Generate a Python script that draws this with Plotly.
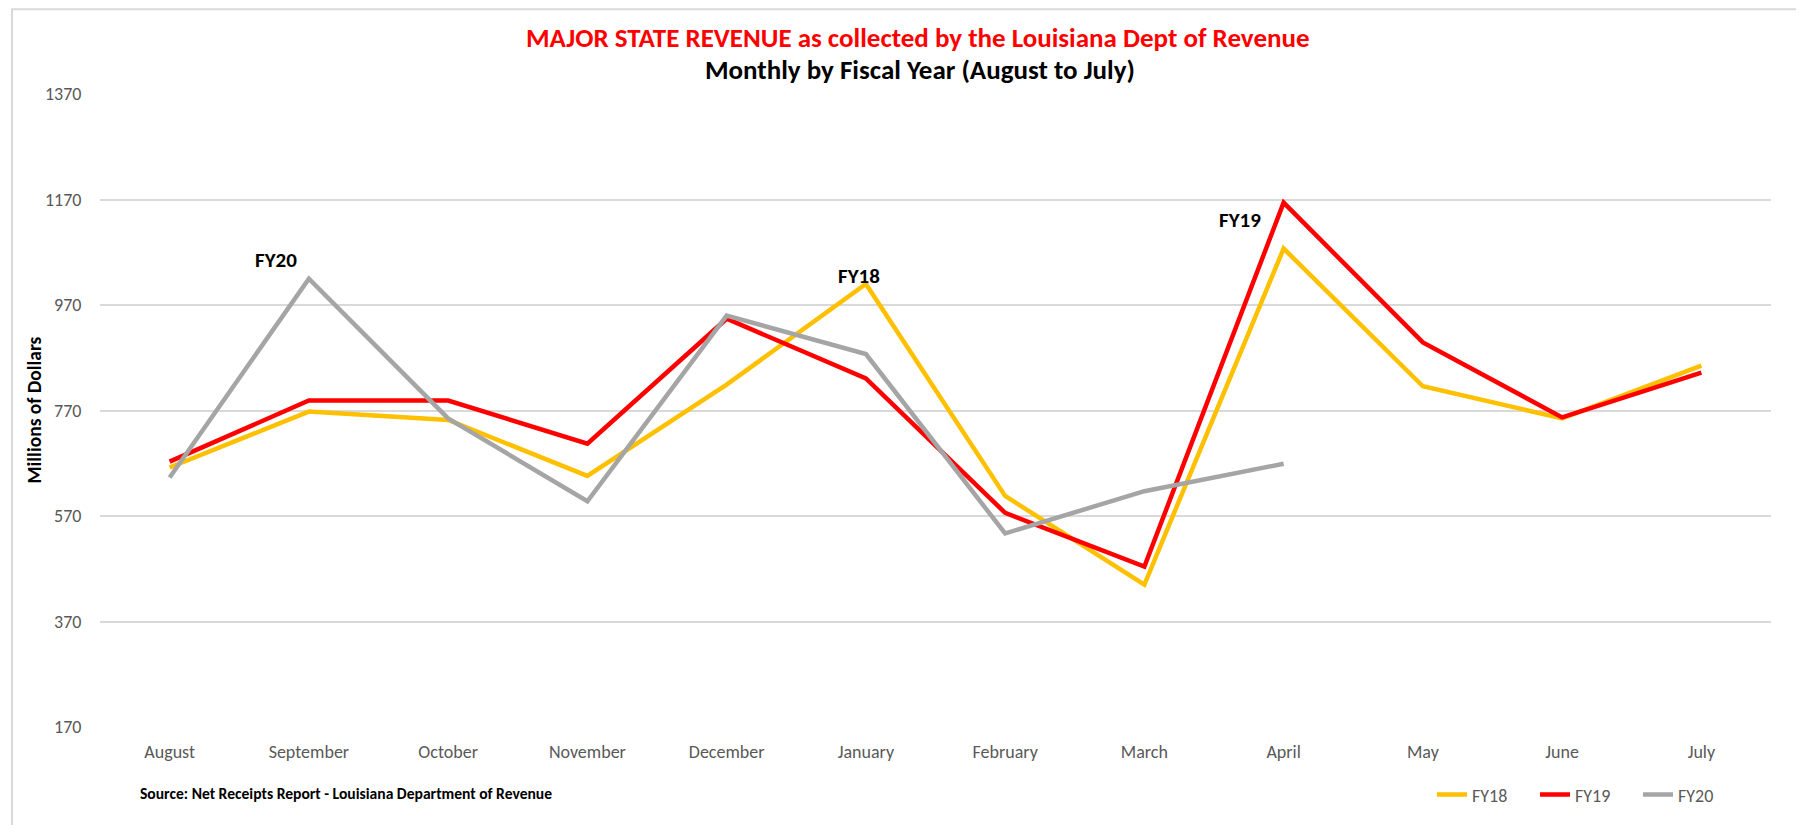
import plotly.graph_objects as go

months = ["August", "September", "October", "November", "December", "January",
          "February", "March", "April", "May", "June", "July"]
fy18 = [662, 768, 752, 646, 819, 1010, 608, 440, 1077, 816, 755, 855]
fy19 = [673, 789, 789, 707, 944, 831, 576, 474, 1164, 899, 757, 842]
fy20 = [643, 1020, 755, 598, 950, 877, 537, 617, 669, None, None, None]
y_ticks = [170, 370, 570, 770, 970, 1170, 1370]

series = [("FY18", fy18, "#FFC000"), ("FY19", fy19, "#FF0000"), ("FY20", fy20, "#A5A5A5")]

FONT = "Carlito, Lato, Open Sans, sans-serif"

fig = go.Figure()
for name, vals, col in series:
    fig.add_trace(go.Scatter(x=months, y=vals, name=name, mode="lines",
                             line=dict(color=col, width=4.5), connectgaps=False))

OFF = 8  # default body margin of the page
W, H = 1804 - OFF, 825 - OFF
L, T = 100 - OFF, 94 - OFF
R = W - (1771 - OFF)
B = H - (729 - OFF)
pw, ph = W - L - R, H - T - B

def px(x):
    return (x - OFF - L) / pw

def py(y):
    return (H - B - (y - OFF)) / ph

ann = [
    dict(text="<b>MAJOR STATE REVENUE as collected by the Louisiana Dept of Revenue</b>",
         x=px(918), y=py(37), font=dict(size=27, color="#FF0000")),
    dict(text="<b>Monthly by Fiscal Year (August to July)</b>",
         x=px(920), y=py(69), font=dict(size=27, color="#000000")),
    dict(text="<b>Millions of Dollars</b>", x=px(33), y=0.5, textangle=-90,
         font=dict(size=19.5, color="#000000")),
    dict(text="<b>Source: Net Receipts Report - Louisiana Department of Revenue</b>",
         x=px(138), y=py(796), xanchor="left", font=dict(size=15.6, color="#000000")),
    dict(text="<b>FY20</b>", x=px(276), y=py(261), font=dict(size=21, color="#000000")),
    dict(text="<b>FY18</b>", x=px(859), y=py(277), font=dict(size=21, color="#000000")),
    dict(text="<b>FY19</b>", x=px(1240), y=py(220), font=dict(size=21, color="#000000")),
]
for a in ann:
    a.setdefault("xanchor", "center")
    a.update(xref="paper", yref="paper", yanchor="middle", showarrow=False)

fig.update_layout(
    width=W, height=H,
    margin=dict(l=L, r=R, t=T, b=B),
    paper_bgcolor="white", plot_bgcolor="white",
    font=dict(family=FONT, color="#595959", size=18),
    annotations=ann,
    showlegend=True,
    legend=dict(orientation="h", x=px(1432), y=py(797), xanchor="left", yanchor="middle",
                font=dict(size=18, color="#595959"),
                entrywidth=58, entrywidthmode="pixels",
                bgcolor="rgba(0,0,0,0)"),
    shapes=[dict(type="rect", xref="paper", yref="paper",
                 x0=px(12), x1=px(1830), y0=py(9), y1=py(850),
                 line=dict(color="#D9D9D9", width=2), layer="below")],
)
fig.update_xaxes(showgrid=False, showline=False, zeroline=False,
                 ticks="outside", ticklen=8, tickcolor="rgba(0,0,0,0)",
                 tickfont=dict(size=18, color="#595959"), range=[-0.5, 11.5])
fig.update_yaxes(range=[170, 1370], tickvals=y_ticks, showgrid=True, gridcolor="#D9D9D9",
                 gridwidth=1.5, zeroline=False, showline=False,
                 ticks="outside", ticklen=14, tickcolor="rgba(0,0,0,0)",
                 tickfont=dict(size=18, color="#595959"))

fig.write_html("out.html")
